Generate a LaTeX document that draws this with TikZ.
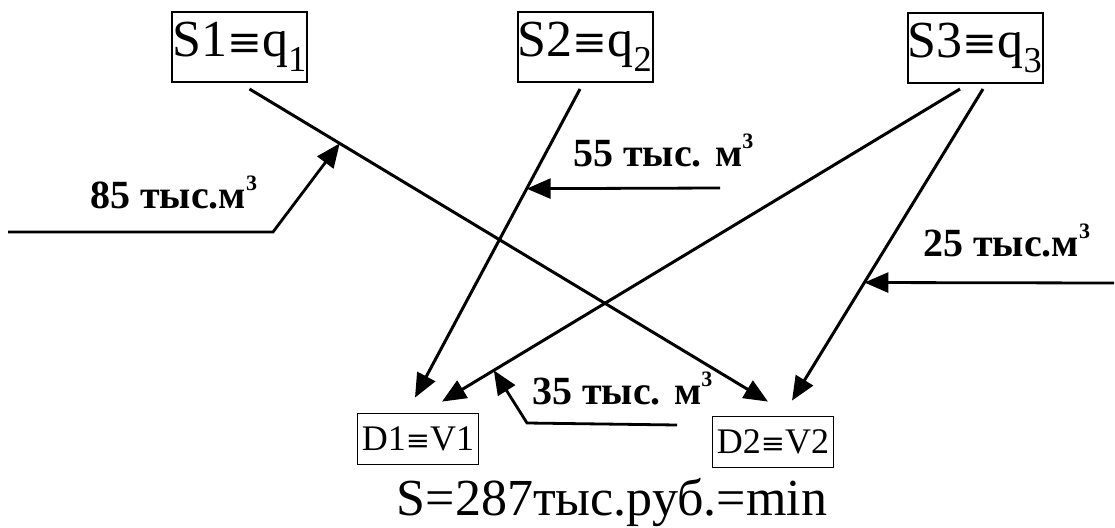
\documentclass[tikz,border=0pt]{standalone}
\usepackage{fontspec}
\setmainfont{Liberation Serif}
\newfontfamily\eqfont{DejaVu Serif}
\usepackage{tikz}
\usetikzlibrary{arrows.meta,positioning,calc}

\newcommand{\idn}{{\eqfont\scalebox{0.8}{≡}}}
\newcommand{\cub}{\raisebox{0.45em}{\fontsize{22}{22}\selectfont 3}}

\begin{document}
\begin{tikzpicture}[x=1pt,y=-1pt,
  src/.style={draw,line width=2pt,minimum width=135pt,minimum height=70pt,inner sep=0pt,font=\fontsize{52}{60}\selectfont},
  dst/.style={draw,line width=1.8pt,minimum width=121pt,minimum height=51pt,inner sep=0pt,font=\fontsize{36}{40}\selectfont},
  route/.style={line width=3pt,-{Triangle[length=24pt,width=20pt]}},
  flow/.style={line width=2.8pt,-{Triangle[length=24pt,width=20pt]}},
  vol/.style={anchor=base west,inner sep=0pt,font=\bfseries\fontsize{40}{44}\selectfont}]
\useasboundingbox (0,0) rectangle (1115,527);
\node[src] (S1) at (239.5,47) {S1\idn q\textsubscript{1}};
\node[src] (S2) at (585,47) {S2\idn q\textsubscript{2}};
\node[src] (S3) at (975,48) {S3\idn q\textsubscript{3}};
\node[dst] (D1) at (418,439) {D1\idn V1};
\node[dst] (D2) at (773,442) {D2\idn V2};
\node[anchor=base,inner sep=0pt,font=\fontsize{52}{60}\selectfont] (total) at (612,515) {S=287тыс.руб.=min};

\draw[route] ([xshift=10pt,yshift=-6pt]S1.south) -- coordinate[pos=0.174] (p85) ([xshift=-5pt,yshift=14pt]D2.north);
\draw[route] ([xshift=-5pt,yshift=-6pt]S2.south) -- coordinate[pos=0.323] (p55) ([xshift=-3pt,yshift=15pt]D1.north);
\draw[route] ([xshift=-15pt,yshift=-5pt]S3.south) -- coordinate[pos=0.9] (p35) ([xshift=24pt,yshift=11pt]D1.north);
\draw[route] ([xshift=8pt,yshift=-5pt]S3.south) -- coordinate[pos=0.621] (p25) ([xshift=19pt,yshift=15pt]D2.north);

\coordinate (f85) at (8,232);
\coordinate (c85) at (273,232);
\coordinate (f55) at (720,188);
\coordinate (f25) at (1114,283);
\coordinate (f35) at (677,425);
\coordinate (c35) at (527,423);
\draw[flow] (f85) -- (c85) -- (p85);
\draw[flow] (f55) -- (p55);
\draw[flow] (f25) -- (p25);
\draw[flow] (f35) -- (c35) -- (p35);

\node[vol] (v85) at (90,208) {85 тыс.м\cub};
\node[vol] (v55) at (573,166) {55 тыс. м\cub};
\node[vol] (v25) at (923,256) {25 тыс.м\cub};
\node[vol] (v35) at (532,404) {35 тыс. м\cub};
\end{tikzpicture}
\end{document}
